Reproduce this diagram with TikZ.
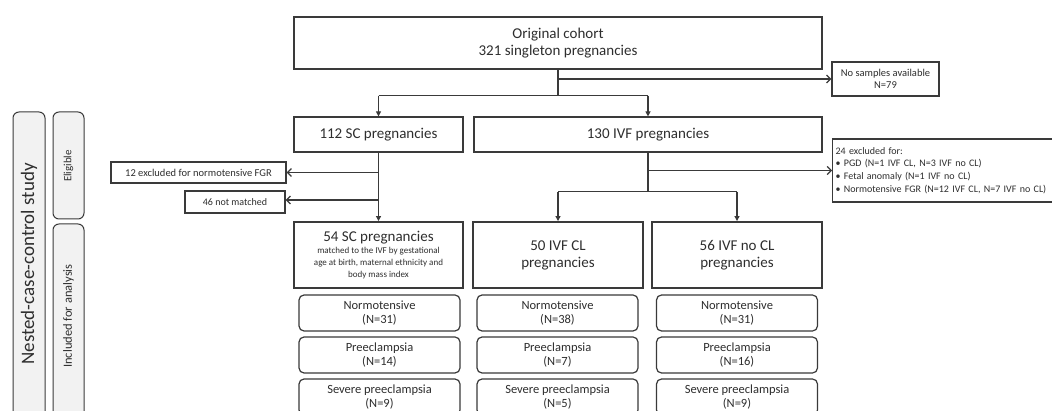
\documentclass[tikz,border=0pt]{standalone}
\usepackage{fontspec}
\setmainfont{Carlito}
\usetikzlibrary{arrows.meta,calc}
\definecolor{ln}{HTML}{3A3A3A}
\definecolor{tx}{HTML}{2E2E2E}
\definecolor{pnl}{HTML}{F2F2F2}
\tikzset{
  box/.style={draw=ln, line width=1.2pt, rectangle, align=center, inner sep=0pt, text=tx},
  thickbox/.style={box, line width=1.9pt},
  outbox/.style={box, rounded corners=5pt, line width=1.2pt},
  panel/.style={draw=ln, fill=pnl, line width=1pt, rounded corners=6pt, inner sep=0pt},
  conn/.style={draw=ln, line width=1.2pt},
  down/.style={conn, -{Triangle[length=5pt,width=5pt]}},
  side/.style={conn, -{Straight Barb[length=4pt,width=8pt]}},
}
\begin{document}
\begin{tikzpicture}[x=1pt,y=-1pt]
\clip (0,0) rectangle (1052,411);
\fill[white] (0,0) rectangle (1052,411);
% left panels
\node[panel, minimum width=32pt, minimum height=330pt] (pout) at (29,277) {};
\node[rotate=90, font=\fontsize{19}{21}\selectfont, text=tx] (tout) at (29,264) {Nested-case-control study};
\node[panel, minimum width=31pt, minimum height=107pt] (pel) at (68.5,165.5) {};
\node[rotate=90, font=\fontsize{11}{13}\selectfont, text=tx] (tel) at (68.5,166) {Eligible};
\node[panel, minimum width=31pt, minimum height=220pt] (pin) at (68.5,334) {};
\node[rotate=90, font=\fontsize{12.5}{14}\selectfont, text=tx] (tin) at (68.5,316) {Included for analysis};
% boxes
\node[box, minimum width=528pt, minimum height=52pt, font=\fontsize{15}{17}\selectfont] (coh) at (558,43) {Original cohort\\321 singleton pregnancies};
\node[box, minimum width=107pt, minimum height=34pt, font=\fontsize{10.5}{12}\selectfont] (nos) at (885.5,79) {No samples available\\N=79};
\node[box, minimum width=169pt, minimum height=35pt, font=\fontsize{15}{17}\selectfont] (sc) at (378.5,134.5) {112 SC pregnancies};
\node[box, minimum width=348pt, minimum height=35pt, font=\fontsize{15}{17}\selectfont] (ivf) at (648,134.5) {130 IVF pregnancies};
\node[box, minimum width=175pt, minimum height=21pt, font=\fontsize{10.5}{12}\selectfont] (ex12) at (198.5,172.5) {12 excluded for normotensive FGR};
\node[box, minimum width=100pt, minimum height=22pt, font=\fontsize{10}{12}\selectfont] (ex46) at (235,202) {46 not matched};
\node[box, minimum width=219pt, minimum height=63pt, font=\fontsize{10}{12.7}\selectfont, align=left, anchor=west, text width=215pt, inner xsep=3pt] (ex24) at (832,170.5) {24 excluded for:\\
\textbullet\ PGD (N=1 IVF CL, N=3 IVF no CL)\\
\textbullet\ Fetal anomaly (N=1 IVF no CL)\\
\textbullet\ Normotensive FGR (N=12 IVF CL, N=7 IVF no CL)};
\node[thickbox, minimum width=169pt, minimum height=66pt] (sc54) at (378.5,255) {\fontsize{15}{17}\selectfont 54 SC pregnancies\\[0pt]\fontsize{9}{11}\selectfont matched to the IVF by gestational\\\fontsize{9}{11}\selectfont age at birth, maternal ethnicity and\\\fontsize{9}{11}\selectfont body mass index};
\node[thickbox, minimum width=170pt, minimum height=66pt, font=\fontsize{15}{17}\selectfont] (cl) at (558,255) {50 IVF CL\\pregnancies};
\node[thickbox, minimum width=170pt, minimum height=66pt, font=\fontsize{15}{17}\selectfont] (ncl) at (737,255) {56 IVF no CL\\pregnancies};
% outcome boxes
\tikzset{ob/.style={outbox, minimum width=161pt, minimum height=36pt, font=\fontsize{12.5}{14.5}\selectfont}}
\node[ob] (a1) at (379.5,313) {Normotensive\\(N=31)};
\node[ob] (a2) at (379.5,355) {Preeclampsia\\(N=14)};
\node[ob] (a3) at (379.5,397) {Severe preeclampsia\\(N=9)};
\node[ob] (b1) at (557.5,313) {Normotensive\\(N=38)};
\node[ob] (b2) at (557.5,355) {Preeclampsia\\(N=7)};
\node[ob] (b3) at (557.5,397) {Severe preeclampsia\\(N=5)};
\node[ob] (c1) at (737,313) {Normotensive\\(N=31)};
\node[ob] (c2) at (737,355) {Preeclampsia\\(N=16)};
\node[ob] (c3) at (737,397) {Severe preeclampsia\\(N=9)};
% connectors
\coordinate (j1) at ($(coh.south)+(0,26)$);
\draw[conn] (coh.south) -- (j1);
\draw[side] (nos.west -| coh.south) -- (nos.west);
\draw[conn] (sc.north |- j1) -- (ivf.north |- j1);
\draw[down] (sc.north |- j1) -- (sc.north);
\draw[down] (ivf.north |- j1) -- (ivf.north);
\draw[down] (sc.south) -- (sc54.north);
\draw[side] (ex12.east -| sc.south) -- (ex12.east);
\draw[side] ($(ex46.east -| sc.south)+(0,-2)$) -- ($(ex46.east)+(0,-2)$);
\coordinate (j2) at ($(ivf.south)+(0,39)$);
\draw[conn] (ivf.south) -- (j2);
\draw[side] (ex24.west -| ivf.south) -- (ex24.west);
\draw[conn] (cl.north |- j2) -- (ncl.north |- j2);
\draw[down] (cl.north |- j2) -- (cl.north);
\draw[down] (ncl.north |- j2) -- (ncl.north);
\end{tikzpicture}
\end{document}
